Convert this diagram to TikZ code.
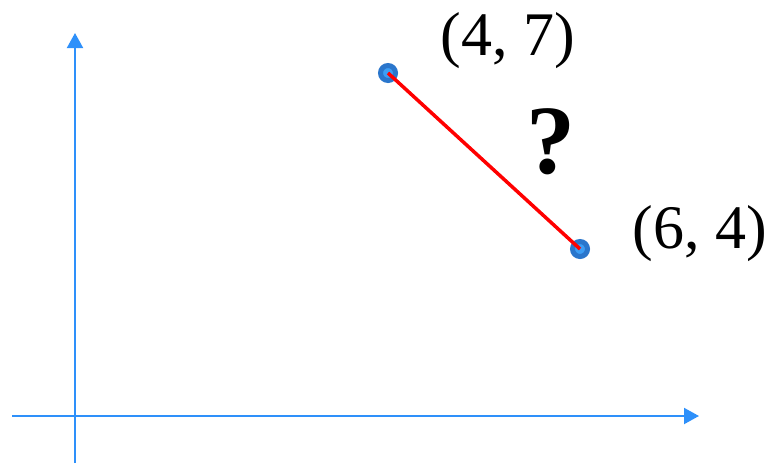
\documentclass[tikz,border=0pt]{standalone}
\usepackage{fontspec}
\setmainfont{Liberation Serif}
\usetikzlibrary{arrows.meta}

\definecolor{axisblue}{HTML}{2E90FA}
\definecolor{dotring}{HTML}{2A76CC}
\definecolor{dotfill}{HTML}{3C9EF5}

\begin{document}
\begin{tikzpicture}[x=1pt, y=-1pt,
		axis/.style={axisblue, line width=2pt, -{Triangle[length=15pt, width=16pt]}},
		dot/.style={draw=dotring, fill=dotfill, line width=5pt},
		label/.style={anchor=base, font=\fontsize{62}{64}\selectfont}]
		\useasboundingbox (0, 0) rectangle (771, 466);

		% Axes
		\coordinate (xstart) at (12, 416);
		\coordinate (xend) at (699, 416);
		\coordinate (ystart) at (75, 463);
		\coordinate (yend) at (75, 33);
		\draw[axis] (xstart) -- (xend);
		\draw[axis] (ystart) -- (yend);

		% Points
		\coordinate (p1) at (388, 73);
		\coordinate (p2) at (580, 249);
		\fill[dot] (p1) circle (7.5);
		\fill[dot] (p2) circle (7.5);

		% Segment
		\draw[red, line width=3.5pt] (p1) -- (p2);

		% Labels
		\node[label] (l1) at (508, 55) {(4, 7)};
		\node[label] (l2) at (700, 248) {(6, 4)};
		\node[anchor=base, font=\fontsize{98}{100}\selectfont\bfseries] (q) at (551, 173) {?};
	\end{tikzpicture}
\end{document}
